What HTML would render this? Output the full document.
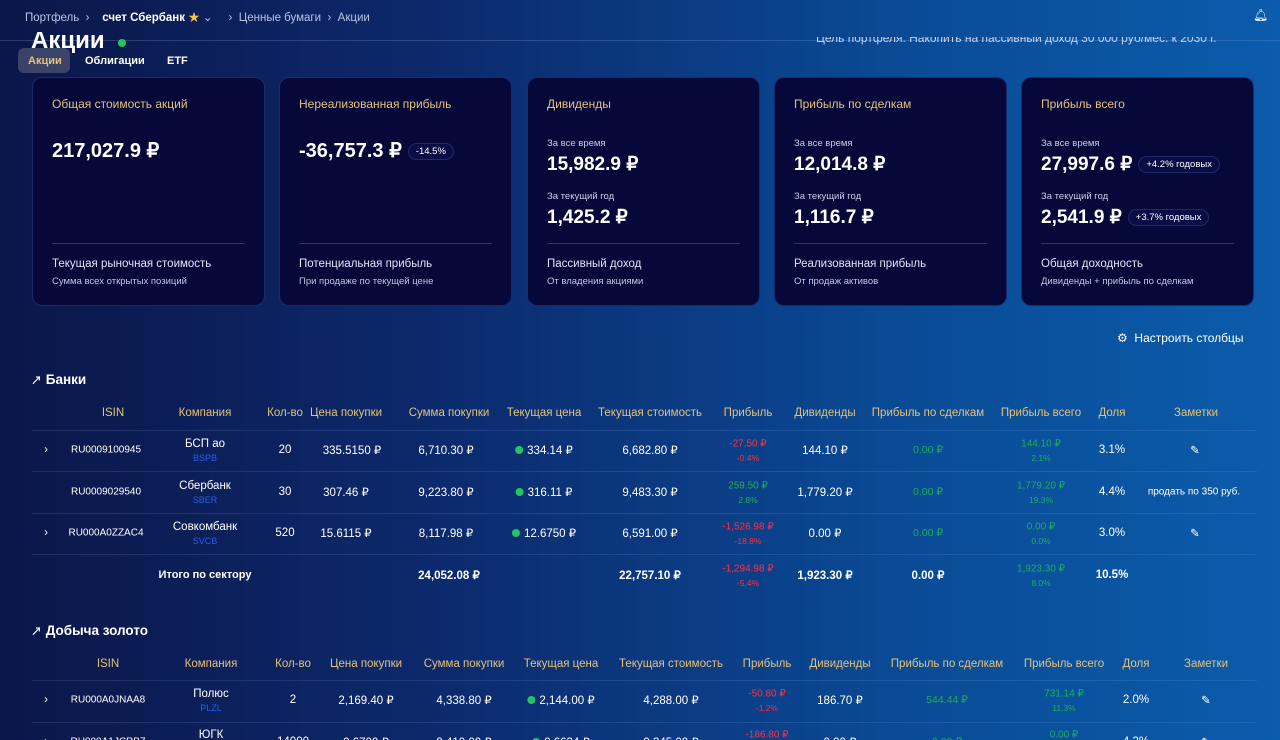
<!DOCTYPE html>
<html style="width:1280px;height:740px;overflow:hidden"><head><meta charset="utf-8"><style>
*{margin:0;padding:0;box-sizing:border-box}
body{width:1280px;height:740px;overflow:hidden;position:relative;font-family:"Liberation Sans","Noto Sans CJK SC",sans-serif;color:#fff;
background:linear-gradient(90deg,#0b1648 0%,#0c2a6e 35%,#0a4a95 70%,#0b5cab 100%)}
.a{position:absolute;white-space:nowrap}
.c{position:absolute;white-space:nowrap;transform:translate(-50%,-50%)}
.card{position:absolute;top:77px;width:233px;height:229px;background:#07083a;border:1px solid #1c2a6a;border-radius:10px}
.ct{position:absolute;left:19px;top:19px;font-size:12px;color:#e4c27a}
.big{position:absolute;left:19px;font-size:20px;font-weight:bold}
.sm{position:absolute;left:19px;font-size:9.5px;color:#c8cfe6}
.hr{position:absolute;left:19px;right:19px;top:165px;border-top:1px solid #2a3470}
.f1{position:absolute;left:19px;top:180px;font-size:11.5px;color:#dfe4f3}
.f2{position:absolute;left:19px;top:198px;font-size:9.5px;color:#c0c8e2}
.pill{display:inline-block;font-size:9.5px;font-weight:normal;border:1px solid #1f2a66;border-radius:9px;padding:2px 7px;margin-left:6px;vertical-align:middle;background:#0a0c45}
.h{font-size:11.5px;color:#e4c27a}
.t{font-size:11.5px;color:#fff}
.i{font-size:10px;color:#fff}
.tk{font-size:9px;color:#2b5cf0}
.r{color:#ff3040}.g{color:#1fae5a}
.line{position:absolute;height:1px;background:rgba(120,160,230,0.18)}
.dot{display:inline-block;width:8px;height:8px;border-radius:50%;background:#22c55e;margin-right:4px;vertical-align:0}
</style></head><body>
<div class="a" style="left:25px;top:9px;font-size:11.5px;color:#b8c3e0">Портфель &nbsp;›&nbsp;&nbsp;&nbsp; <b style="color:#fff">счет Сбербанк</b> <span style="color:#f5c542">★</span> ⌄ &nbsp;&nbsp;&nbsp; › &nbsp;Ценные бумаги &nbsp;› &nbsp;Акции</div>
<div class="a" style="left:1253px;top:8px;font-size:12px">🔔︎</div>
<div class="a" style="left:0;top:40px;width:1280px;height:1px;background:rgba(140,170,230,0.25)"></div>
<div class="a" style="left:31px;top:32px;height:22px;overflow:hidden;font-size:24px;font-weight:bold"><span style="position:relative;top:-5px">Акции</span></div>
<div class="a" style="left:118px;top:39px;width:8px;height:8px;border-radius:50%;background:#22c55e"></div>
<div class="a" style="left:816px;top:37px;height:8px;overflow:hidden;font-size:12px;color:#c8d3ee"><span style="position:relative;top:-6px;display:block">Цель портфеля: Накопить на пассивный доход 30 000 руб/мес. к 2030 г.</span></div>
<div class="a" style="left:18px;top:48px;width:52px;height:25px;background:rgba(120,120,140,0.45);border-radius:6px"></div>
<div class="a" style="left:28px;top:55px;font-size:11px;color:#e4c27a;font-weight:bold">Акции</div>
<div class="a" style="left:85px;top:55px;font-size:11px;font-weight:bold">Облигации</div>
<div class="a" style="left:167px;top:55px;font-size:11px;font-weight:bold">ETF</div>

<div class="card" style="left:32px"><div class="ct">Общая стоимость акций</div><div class="big" style="top:60px">217,027.9 ₽</div><div class="hr"></div><div class="f1">Текущая рыночная стоимость</div><div class="f2">Сумма всех открытых позиций</div></div>
<div class="card" style="left:279px"><div class="ct">Нереализованная прибыль</div><div class="big" style="top:60px">-36,757.3 ₽<span class="pill">-14.5%</span></div><div class="hr"></div><div class="f1">Потенциальная прибыль</div><div class="f2">При продаже по текущей цене</div></div>
<div class="card" style="left:527px"><div class="ct">Дивиденды</div><div class="sm" style="top:60px">За все время</div><div class="big" style="top:75px;font-size:19px">15,982.9 ₽</div><div class="sm" style="top:113px">За текущий год</div><div class="big" style="top:128px;font-size:19px">1,425.2 ₽</div><div class="hr"></div><div class="f1">Пассивный доход</div><div class="f2">От владения акциями</div></div>
<div class="card" style="left:774px"><div class="ct">Прибыль по сделкам</div><div class="sm" style="top:60px">За все время</div><div class="big" style="top:75px;font-size:19px">12,014.8 ₽</div><div class="sm" style="top:113px">За текущий год</div><div class="big" style="top:128px;font-size:19px">1,116.7 ₽</div><div class="hr"></div><div class="f1">Реализованная прибыль</div><div class="f2">От продаж активов</div></div>
<div class="card" style="left:1021px"><div class="ct">Прибыль всего</div><div class="sm" style="top:60px">За все время</div><div class="big" style="top:75px;font-size:19px">27,997.6 ₽<span class="pill">+4.2% годовых</span></div><div class="sm" style="top:113px">За текущий год</div><div class="big" style="top:128px;font-size:19px">2,541.9 ₽<span class="pill">+3.7% годовых</span></div><div class="hr"></div><div class="f1">Общая доходность</div><div class="f2">Дивиденды + прибыль по сделкам</div></div>

<div class="a" style="left:1117px;top:331px;font-size:12px">⚙&nbsp; Настроить столбцы</div>

<div class="a" style="left:31px;top:372px;font-size:13.5px;font-weight:bold"><span style="font-size:11px">↗</span> Банки</div>
<div class="line" style="left:32px;width:1225px;top:430px"></div>
<div class="line" style="left:32px;width:1225px;top:471px"></div>
<div class="line" style="left:32px;width:1225px;top:513px"></div>
<div class="line" style="left:32px;width:1225px;top:554px"></div>
<div class="c h" style="left:113px;top:413px">ISIN</div><div class="c h" style="left:205px;top:413px">Компания</div><div class="c h" style="left:285px;top:413px">Кол-во</div><div class="c h" style="left:346px;top:413px">Цена покупки</div><div class="c h" style="left:449px;top:413px">Сумма покупки</div><div class="c h" style="left:544px;top:413px">Текущая цена</div><div class="c h" style="left:650px;top:413px">Текущая стоимость</div><div class="c h" style="left:748px;top:413px">Прибыль</div><div class="c h" style="left:825px;top:413px">Дивиденды</div><div class="c h" style="left:928px;top:413px">Прибыль по сделкам</div><div class="c h" style="left:1041px;top:413px">Прибыль всего</div><div class="c h" style="left:1112px;top:413px">Доля</div><div class="c h" style="left:1196px;top:413px">Заметки</div>

<div class="c t" style="left:46px;top:450px">›</div><div class="c i" style="left:106px;top:450px">RU0009100945</div><div class="c t" style="left:205px;top:444px">БСП ао</div><div class="c tk" style="left:205px;top:458px">BSPB</div><div class="c t" style="left:285px;top:450px">20</div><div class="c t" style="left:352px;top:450px">335.5150 ₽</div><div class="c t" style="left:446px;top:450px">6,710.30 ₽</div><div class="c t" style="left:544px;top:450px"><span class="dot"></span>334.14 ₽</div><div class="c t" style="left:650px;top:450px">6,682.80 ₽</div><div class="c r" style="left:748px;top:444px;font-size:10px">-27.50 ₽</div><div class="c r" style="left:748px;top:458px;font-size:8.5px">-0.4%</div><div class="c t" style="left:825px;top:450px">144.10 ₽</div><div class="c g" style="left:928px;top:450px;font-size:10.5px">0.00 ₽</div><div class="c g" style="left:1041px;top:444px;font-size:10px">144.10 ₽</div><div class="c g" style="left:1041px;top:458px;font-size:8.5px">2.1%</div><div class="c t" style="left:1112px;top:450px">3.1%</div><div class="c t" style="left:1195px;top:450px">✎</div>

<div class="c i" style="left:106px;top:492px">RU0009029540</div><div class="c t" style="left:205px;top:486px">Сбербанк</div><div class="c tk" style="left:205px;top:500px">SBER</div><div class="c t" style="left:285px;top:492px">30</div><div class="c t" style="left:346px;top:492px">307.46 ₽</div><div class="c t" style="left:446px;top:492px">9,223.80 ₽</div><div class="c t" style="left:544px;top:492px"><span class="dot"></span>316.11 ₽</div><div class="c t" style="left:650px;top:492px">9,483.30 ₽</div><div class="c g" style="left:748px;top:486px;font-size:10px">259.50 ₽</div><div class="c g" style="left:748px;top:500px;font-size:8.5px">2.8%</div><div class="c t" style="left:825px;top:492px">1,779.20 ₽</div><div class="c g" style="left:928px;top:492px;font-size:10.5px">0.00 ₽</div><div class="c g" style="left:1041px;top:486px;font-size:10px">1,779.20 ₽</div><div class="c g" style="left:1041px;top:500px;font-size:8.5px">19.3%</div><div class="c t" style="left:1112px;top:492px">4.4%</div><div class="c" style="left:1194px;top:492px;font-size:10px">продать по 350 руб.</div>

<div class="c t" style="left:46px;top:533px">›</div><div class="c i" style="left:106px;top:533px">RU000A0ZZAC4</div><div class="c t" style="left:205px;top:527px">Совкомбанк</div><div class="c tk" style="left:205px;top:541px">SVCB</div><div class="c t" style="left:285px;top:533px">520</div><div class="c t" style="left:346px;top:533px">15.6115 ₽</div><div class="c t" style="left:446px;top:533px">8,117.98 ₽</div><div class="c t" style="left:544px;top:533px"><span class="dot"></span>12.6750 ₽</div><div class="c t" style="left:650px;top:533px">6,591.00 ₽</div><div class="c r" style="left:748px;top:527px;font-size:10px">-1,526.98 ₽</div><div class="c r" style="left:748px;top:541px;font-size:8.5px">-18.8%</div><div class="c t" style="left:825px;top:533px">0.00 ₽</div><div class="c g" style="left:928px;top:533px;font-size:10.5px">0.00 ₽</div><div class="c g" style="left:1041px;top:527px;font-size:10px">0.00 ₽</div><div class="c g" style="left:1041px;top:541px;font-size:8.5px">0.0%</div><div class="c t" style="left:1112px;top:533px">3.0%</div><div class="c t" style="left:1195px;top:533px">✎</div>

<div class="c t" style="left:205px;top:575px;font-weight:bold;font-size:11px">Итого по сектору</div><div class="c t" style="left:449px;top:575px;font-weight:bold">24,052.08 ₽</div><div class="c t" style="left:650px;top:575px;font-weight:bold">22,757.10 ₽</div><div class="c r" style="left:748px;top:569px;font-size:10px">-1,294.98 ₽</div><div class="c r" style="left:748px;top:583px;font-size:8.5px">-5.4%</div><div class="c t" style="left:825px;top:575px;font-weight:bold">1,923.30 ₽</div><div class="c t" style="left:928px;top:575px;font-weight:bold">0.00 ₽</div><div class="c g" style="left:1041px;top:569px;font-size:10px">1,923.30 ₽</div><div class="c g" style="left:1041px;top:583px;font-size:8.5px">8.0%</div><div class="c t" style="left:1112px;top:575px;font-weight:bold">10.5%</div>

<div class="a" style="left:31px;top:623px;font-size:13.5px;font-weight:bold"><span style="font-size:11px">↗</span> Добыча золото</div>
<div class="line" style="left:32px;width:1225px;top:680px"></div>
<div class="line" style="left:32px;width:1225px;top:722px"></div>
<div class="c h" style="left:108px;top:664px">ISIN</div><div class="c h" style="left:211px;top:664px">Компания</div><div class="c h" style="left:293px;top:664px">Кол-во</div><div class="c h" style="left:366px;top:664px">Цена покупки</div><div class="c h" style="left:464px;top:664px">Сумма покупки</div><div class="c h" style="left:561px;top:664px">Текущая цена</div><div class="c h" style="left:671px;top:664px">Текущая стоимость</div><div class="c h" style="left:767px;top:664px">Прибыль</div><div class="c h" style="left:840px;top:664px">Дивиденды</div><div class="c h" style="left:947px;top:664px">Прибыль по сделкам</div><div class="c h" style="left:1064px;top:664px">Прибыль всего</div><div class="c h" style="left:1136px;top:664px">Доля</div><div class="c h" style="left:1206px;top:664px">Заметки</div>

<div class="c t" style="left:46px;top:700px">›</div><div class="c i" style="left:108px;top:700px">RU000A0JNAA8</div><div class="c t" style="left:211px;top:694px">Полюс</div><div class="c tk" style="left:211px;top:708px">PLZL</div><div class="c t" style="left:293px;top:700px">2</div><div class="c t" style="left:366px;top:700px">2,169.40 ₽</div><div class="c t" style="left:464px;top:700px">4,338.80 ₽</div><div class="c t" style="left:561px;top:700px"><span class="dot"></span>2,144.00 ₽</div><div class="c t" style="left:671px;top:700px">4,288.00 ₽</div><div class="c r" style="left:767px;top:694px;font-size:10px">-50.80 ₽</div><div class="c r" style="left:767px;top:708px;font-size:8.5px">-1.2%</div><div class="c t" style="left:840px;top:700px">186.70 ₽</div><div class="c g" style="left:947px;top:700px;font-size:10.5px">544.44 ₽</div><div class="c g" style="left:1064px;top:694px;font-size:10px">731.14 ₽</div><div class="c g" style="left:1064px;top:708px;font-size:8.5px">11.3%</div><div class="c t" style="left:1136px;top:700px">2.0%</div><div class="c t" style="left:1206px;top:700px">✎</div>

<div class="c t" style="left:46px;top:742px">›</div><div class="c i" style="left:108px;top:742px">RU000A1JCRB7</div><div class="c t" style="left:211px;top:735px">ЮГК</div><div class="c t" style="left:293px;top:742px">14000</div><div class="c t" style="left:366px;top:742px">0.6700 ₽</div><div class="c t" style="left:464px;top:742px">9,410.00 ₽</div><div class="c t" style="left:561px;top:742px"><span class="dot"></span>0.6634 ₽</div><div class="c t" style="left:671px;top:742px">9,345.00 ₽</div><div class="c r" style="left:767px;top:735px;font-size:10px">-186.80 ₽</div><div class="c t" style="left:840px;top:742px">0.00 ₽</div><div class="c g" style="left:947px;top:742px;font-size:10.5px">0.00 ₽</div><div class="c g" style="left:1064px;top:735px;font-size:10px">0.00 ₽</div><div class="c t" style="left:1136px;top:742px">4.3%</div><div class="c t" style="left:1206px;top:742px">✎</div>
</body></html>
